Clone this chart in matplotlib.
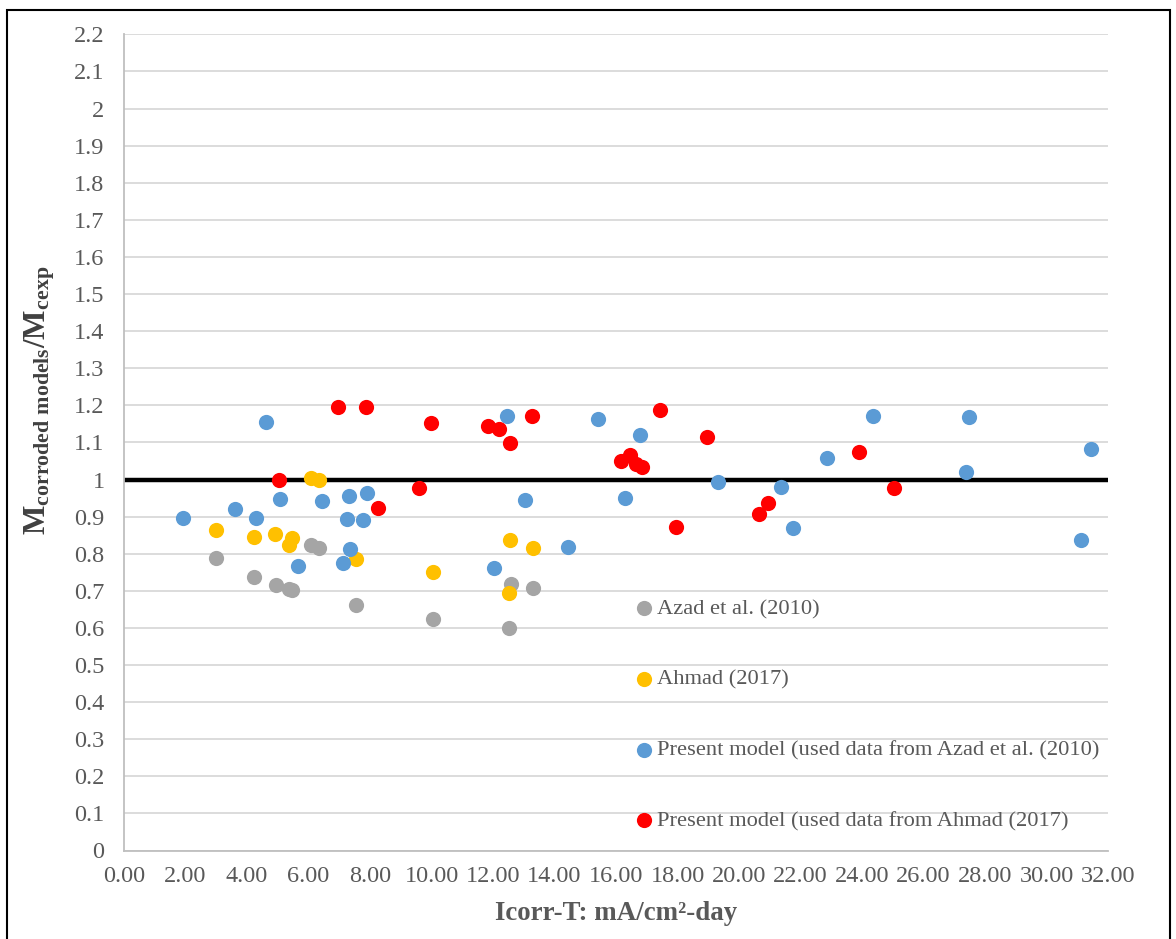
import matplotlib
matplotlib.use("Agg")
import matplotlib.pyplot as plt
from matplotlib.patches import Rectangle
import numpy as np

# Corrosion current x time (mA/cm2-day) and moment ratio for each data set
azad_x = [2.98, 4.22, 4.93, 5.36, 5.47, 6.08, 6.35, 7.53, 10.06, 12.52, 12.60, 13.31]
azad_y = [0.788, 0.737, 0.715, 0.705, 0.701, 0.823, 0.815, 0.661, 0.625, 0.599, 0.718, 0.708]

ahmad_x = [2.98, 4.22, 4.92, 5.46, 5.37, 6.08, 6.35, 7.53, 10.06, 12.56, 13.31, 12.52]
ahmad_y = [0.864, 0.845, 0.852, 0.842, 0.824, 1.004, 0.999, 0.785, 0.750, 0.836, 0.816, 0.693]

present_azad_x = [1.93, 4.62, 3.61, 4.29, 5.06, 6.43, 7.33, 7.89, 7.24, 7.78, 7.35, 7.13, 5.66,
                  12.46, 15.42, 16.77, 13.04, 16.28, 19.32, 14.43, 12.03,
                  21.37, 21.76, 22.85, 24.36, 27.48, 27.37, 31.46, 31.12]
present_azad_y = [0.895, 1.154, 0.921, 0.897, 0.948, 0.941, 0.955, 0.964, 0.894, 0.891, 0.812, 0.774, 0.766,
                  1.171, 1.162, 1.121, 0.946, 0.951, 0.994, 0.818, 0.761,
                  0.981, 0.869, 1.058, 1.172, 1.168, 1.021, 1.081, 0.838]

present_ahmad_x = [6.97, 7.86, 9.98, 5.03, 9.58, 8.25,
                   11.83, 12.20, 12.55, 13.28, 17.44, 18.95, 16.15, 16.46, 16.65, 16.83, 17.94, 20.64, 20.95,
                   23.91, 25.04]
present_ahmad_y = [1.195, 1.195, 1.152, 0.999, 0.978, 0.924,
                   1.143, 1.136, 1.098, 1.171, 1.188, 1.115, 1.049, 1.065, 1.041, 1.034, 0.873, 0.908, 0.936,
                   1.074, 0.977]

series_labels = ["Azad et al. (2010)", "Ahmad (2017)",
                 "Present model (used data from Azad et al. (2010)",
                 "Present model (used data from Ahmad (2017)"]
series_colors = ["#a5a5a5", "#ffc000", "#5b9bd5", "#ff0000"]

x_ticks = np.arange(0, 33, 2)
y_ticks = np.round(np.arange(0, 2.21, 0.1), 1)

plt.rcParams["font.family"] = ["Liberation Serif", "DejaVu Serif"]
plt.rcParams["mathtext.fontset"] = "custom"
plt.rcParams["mathtext.rm"] = "Liberation Serif:bold"
plt.rcParams["mathtext.it"] = "Liberation Serif:bold"
plt.rcParams["mathtext.bf"] = "Liberation Serif:bold"

text_col = "#595959"

fig = plt.figure(figsize=(11.76, 9.39), dpi=100)
ax = fig.add_axes([124 / 1176, 1 - 850.5 / 939, (1108 - 124) / 1176, (850.5 - 34.3) / 939])

ax.set_xlim(0, 32)
ax.set_ylim(0, 2.2)
ax.set_xticks(x_ticks)
ax.set_xticklabels([f"{v:.2f}" for v in x_ticks])
ax.set_yticks(y_ticks)
ax.set_yticklabels([f"{v:g}" for v in y_ticks])
ax.tick_params(axis="both", length=0, labelsize=17.5, colors=text_col)
ax.tick_params(axis="x", pad=11)
ax.tick_params(axis="y", pad=14)

ax.grid(axis="y", color="#d9d9d9", linewidth=1.3)
ax.set_axisbelow(True)
for side in ["top", "right"]:
    ax.spines[side].set_visible(False)
for side in ["left", "bottom"]:
    ax.spines[side].set_color("#bfbfbf")
    ax.spines[side].set_linewidth(1.3)

# Reference line at ratio = 1
ax.axhline(1.0, color="black", linewidth=3.2, zorder=2)

data = [(azad_x, azad_y), (ahmad_x, ahmad_y),
        (present_azad_x, present_azad_y), (present_ahmad_x, present_ahmad_y)]
for (xs, ys), lab, col in zip(data, series_labels, series_colors):
    ax.scatter(xs, ys, s=120, color=col, label=lab, zorder=3, linewidths=0)

leg = ax.legend(loc="upper left", bbox_to_anchor=(637.5 / 1176, 1 - 598.5 / 939),
                bbox_transform=fig.transFigure, frameon=False, fontsize=16.2,
                handlelength=0.6, handletextpad=0.25, labelspacing=2.22,
                borderpad=0, borderaxespad=0, markerscale=1.0)
for t in leg.get_texts():
    t.set_color(text_col)

fig.text(616 / 1176, 1 - 913 / 939, "Icorr-T: mA/cm²-day", ha="center", va="center",
         fontsize=19.4, fontweight="bold", color=text_col)
fig.text(40 / 1176, 1 - 400 / 939,
         r"M$_{\mathregular{corroded\ models}}$/M$_{\mathregular{cexp}}$",
         rotation=90, ha="center", va="center", fontsize=22.5, fontweight="bold", color="#404040")

# Outer frame of the figure
fig.patches.append(Rectangle((7 / 1176, -0.05), (1170 - 7) / 1176, 1 - 10 / 939 + 0.05,
                             transform=fig.transFigure, fill=False, edgecolor="black",
                             linewidth=1.5))

fig.savefig("out.png", dpi=100)
